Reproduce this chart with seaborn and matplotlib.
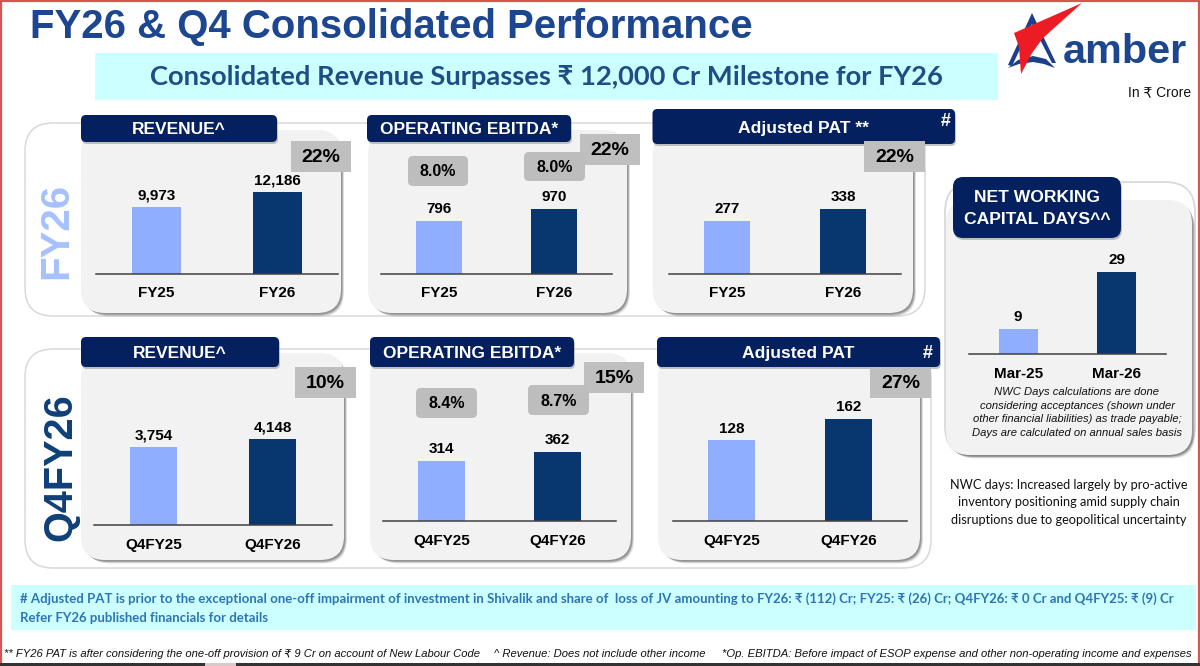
import matplotlib
matplotlib.use("Agg")
import matplotlib.pyplot as plt
from matplotlib.patches import FancyBboxPatch, Rectangle, Polygon
import pandas as pd
import seaborn as sns

# ---------- data ----------
fy_labels = ["FY25", "FY26"]
q4_labels = ["Q4FY25", "Q4FY26"]
nwc_labels = ["Mar-25", "Mar-26"]
fy_revenue = [9973, 12186]
fy_ebitda = [796, 970]
fy_pat = [277, 338]
q4_revenue = [3754, 4148]
q4_ebitda = [314, 362]
q4_pat = [128, 162]
nwc_days = [9, 29]
growth_labels = ["22%", "22%", "22%", "10%", "15%", "27%"]
margin_labels = ["8.0%", "8.0%", "8.4%", "8.7%"]

TITLE = "FY26 & Q4 Consolidated Performance"
BANNER = "Consolidated Revenue Surpasses ₹ 12,000 Cr Milestone for FY26"
NOTE1 = ("# Adjusted PAT is prior to the exceptional one-off impairment of investment in Shivalik and share of  loss of JV "
         "amounting to FY26: ₹ (112) Cr; FY25: ₹ (26) Cr; Q4FY26: ₹ 0 Cr and Q4FY25: ₹ (9) Cr")
NOTE2 = "Refer FY26 published financials for details"

# ---------- style ----------
sns.set_theme(style="white")
ARIAL = ["Liberation Sans", "DejaVu Sans"]
CALIBRI = ["Lato", "DejaVu Sans"]
plt.rcParams["font.family"] = ARIAL
LIGHT, DARK = "#8FAEFF", "#08376F"
NAVY = "#04205F"
W, H = 1200, 666

fig = plt.figure(figsize=(12, 6.66), dpi=100, facecolor="white")
bg = fig.add_axes([0, 0, 1, 1], zorder=0)
bg.set_xlim(0, W)
bg.set_ylim(H, 0)
bg.axis("off")


def rbox(x0, y0, x1, y1, r, **kw):
    p = FancyBboxPatch((x0, y0), x1 - x0, y1 - y0,
                       boxstyle=f"round,pad=0,rounding_size={r}", mutation_aspect=1, **kw)
    bg.add_patch(p)
    return p


def panel(x0, y0, x1, y1, r=24):
    for off, a in ((5, .14), (4, .2), (3, .3), (2, .4)):
        rbox(x0 + off, y0 + off, x1 + off * .6, y1 + off * .7, r, fc="#6a6a6a", ec="none", alpha=a)
    rbox(x0, y0, x1, y1, r, fc="#F2F2F2", ec="none")


def header(x0, y0, x1, y1, r=5):
    rbox(x0 + 1, y0 + 2, x1 + 1, y1 + 2, r, fc="#8c8c8c", ec="none", alpha=.5)
    rbox(x0, y0, x1, y1, r, fc=NAVY, ec="none")


def tag(x0, y0, x1, y1, s, rounded=False):
    if rounded:
        rbox(x0, y0, x1, y1, 5, fc="#BDBDBD", ec="none", zorder=4)
    else:
        bg.add_patch(Rectangle((x0, y0), x1 - x0, y1 - y0, fc="#BFBFBF", ec="none", zorder=4))
    bg.text((x0 + x1) / 2, (y0 + y1) / 2 + 1, s, ha="center", va="center", color="black",
            fontsize=14 if not rounded else 11.5, fontweight="bold", zorder=5)


def bars(left, right, base, height, labels, values):
    ax = fig.add_axes([left / W, 1 - base / H, (right - left) / W, height / H], zorder=2)
    df = pd.DataFrame({"period": labels, "value": values})
    sns.barplot(data=df, x="period", y="value", hue="period", palette=[LIGHT, DARK],
                width=0.4, legend=False, saturation=1, linewidth=0, ax=ax)
    ax.set_xlim(-0.5, 1.5)
    ax.set_ylim(0, max(values))
    ax.patch.set_alpha(0)
    ax.set(xlabel=None, ylabel=None, yticks=[])
    for s in ("top", "left", "right"):
        ax.spines[s].set_visible(False)
    ax.spines["bottom"].set_color("#404040")
    ax.spines["bottom"].set_linewidth(1.1)
    ax.tick_params(axis="x", length=0, pad=9, labelsize=11, labelcolor="black")
    for t in ax.get_xticklabels():
        t.set_fontweight("bold")
    for c in ax.containers:
        ax.bar_label(c, fmt="{:,.0f}", padding=3.5, fontsize=11, fontweight="bold", color="black", clip_on=False)
    return ax


# frame
bg.add_patch(Rectangle((0.5, 0.5), W - 1.5, H - 2, fc="white", ec="#D9534F", lw=1.6, zorder=0))
bg.add_patch(Rectangle((0, 663), W, 3, fc="#333333", ec="none", zorder=6))
bg.add_patch(Rectangle((205, 663), 31, 3, fc="#D9C9C9", ec="none", zorder=7))

# title
bg.text(30, 27, TITLE, fontsize=28.9, fontweight="bold", color="#1C4690", ha="left", va="center")
bg.add_patch(Rectangle((95, 53), 903, 47, fc="#CCFFFF", ec="none"))
bg.text(546, 77, BANNER, fontsize=19.7, fontweight="bold", color="#1F4E85", ha="center", va="center",
        family=CALIBRI)

# logo
bg.add_patch(Polygon([(1032, 13), (1008, 65), (1012, 66), (1032, 24), (1052, 63), (1056, 63)], fc="#1C3F8C", ec="none"))
bg.add_patch(Polygon([(1008, 68), (1018, 60), (1033, 56), (1046, 59), (1055, 68), (1044, 64), (1033, 62), (1019, 64)],
                     fc="#1C3F8C", ec="none"))
bg.add_patch(Polygon([(1082, 3), (1014, 33), (1019, 47), (1021, 74), (1032, 53), (1043, 38)], fc="#ED1C24", ec="none"))
bg.text(1125, 63, "amber", fontsize=29.8, fontweight="bold", color="#1C4690", ha="center", va="baseline")
bg.text(1191, 92, "In ₹ Crore", fontsize=10, color="#111111", ha="right", va="center")

# outer outlines
rbox(25, 123, 925, 316, 28, fc="white", ec="#D9D9D9", lw=1.1)
rbox(25, 349, 931, 568, 28, fc="white", ec="#D9D9D9", lw=1.1)
rbox(945, 182, 1195, 456, 30, fc="white", ec="#D9D9D9", lw=1.3)

# panels
for p in [(81, 130, 341, 313), (368, 130, 627, 313), (652.5, 130, 913, 313),
          (81, 353, 344, 560), (370, 353, 631, 560), (658, 353, 920, 560),
          (946, 200, 1192, 455)]:
    panel(*p)

# side labels
bg.text(56, 231, "FY26", rotation=90, fontsize=29, fontweight="bold", color="#A6C1FF", ha="center", va="center")
bg.text(60, 467, "Q4FY26", rotation=90, fontsize=28.5, fontweight="bold", color="#0F3F78", ha="center", va="center")

# headers
header(81, 115, 277, 142)
header(367, 115, 571, 142)
header(652.5, 109, 955, 144)
header(81, 337, 279, 367)
header(370, 337, 574, 367)
header(657, 337, 940, 367)
header(953, 177, 1121, 238, r=10)
hdr = dict(color="white", fontweight="bold", ha="center", va="center")
bg.text(179, 130, "REVENUE^", fontsize=12.5, **hdr)
bg.text(469, 130, "OPERATING EBITDA*", fontsize=12.5, **hdr)
bg.text(803.5, 128.5, "Adjusted PAT **", fontsize=12.6, **hdr)
bg.text(946, 122, "#", fontsize=13, **hdr)
bg.text(180, 353.5, "REVENUE^", fontsize=12.5, **hdr)
bg.text(472, 353.5, "OPERATING EBITDA*", fontsize=12.5, **hdr)
bg.text(798, 353.5, "Adjusted PAT", fontsize=12.6, **hdr)
bg.text(928, 353.5, "#", fontsize=13, **hdr)
bg.text(1037, 198, "NET WORKING", fontsize=12.6, **hdr)
bg.text(1037, 219, "CAPITAL DAYS^^", fontsize=12.6, **hdr)

# charts
bars(96, 338, 274, 82, fy_labels, fy_revenue)
bars(381, 612, 274, 65, fy_labels, fy_ebitda)
bars(669, 901, 274, 65, fy_labels, fy_pat)
bars(94, 332, 525, 86, q4_labels, q4_revenue)
bars(383, 616, 521, 69, q4_labels, q4_ebitda)
bars(673, 907, 521, 102, q4_labels, q4_pat)
bars(969, 1166, 354, 82, nwc_labels, nwc_days)

# growth tags
tag(291, 141, 351, 172, growth_labels[0])
tag(580, 134, 640, 165, growth_labels[1])
tag(864, 141, 925, 172, growth_labels[2])
tag(295, 367, 356, 398, growth_labels[3])
tag(584, 362, 644, 393, growth_labels[4])
tag(870, 367, 931, 398, growth_labels[5])
tag(408, 156, 468, 186, margin_labels[0], rounded=True)
tag(524, 152, 585, 181, margin_labels[1], rounded=True)
tag(416, 388, 477, 418, margin_labels[2], rounded=True)
tag(528, 385, 589, 415, margin_labels[3], rounded=True)

# NWC notes
for y, s in zip((392, 406, 419, 433), ("NWC Days calculations are done",
                                       "considering acceptances (shown under",
                                       "other financial liabilities) as trade payable;",
                                       "Days are calculated on annual sales basis")):
    bg.text(1077, y, s, fontsize=8.1, style="italic", color="#111111", ha="center", va="center", zorder=5)
for y, s in zip((485, 502, 520), ("NWC days: Increased largely by pro-active",
                                  "inventory positioning amid supply chain",
                                  "disruptions due to geopolitical uncertainty")):
    bg.text(1069, y, s, fontsize=9.2, color="#111111", ha="center", va="center", family=CALIBRI)

# bottom notes
bg.add_patch(Rectangle((11, 585), 1185, 45, fc="#CCFFFF", ec="none"))
bg.text(20, 599, NOTE1, fontsize=9.55, fontweight="bold", color="#2E75B6", ha="left", va="center", family=CALIBRI)
bg.text(20, 618, NOTE2, fontsize=9.55, fontweight="bold", color="#2E75B6", ha="left", va="center", family=CALIBRI)
foot = dict(fontsize=8.1, style="italic", color="#111111", ha="left", va="center")
bg.text(4, 654, "** FY26 PAT is after considering the one-off provision of ₹ 9 Cr on account of New Labour Code", **foot)
bg.text(494, 654, "^ Revenue: Does not include other income", **foot)
bg.text(722, 654, "*Op. EBITDA: Before impact of ESOP expense and other non-operating income and expenses", **foot)

fig.savefig("out.png", dpi=100)
